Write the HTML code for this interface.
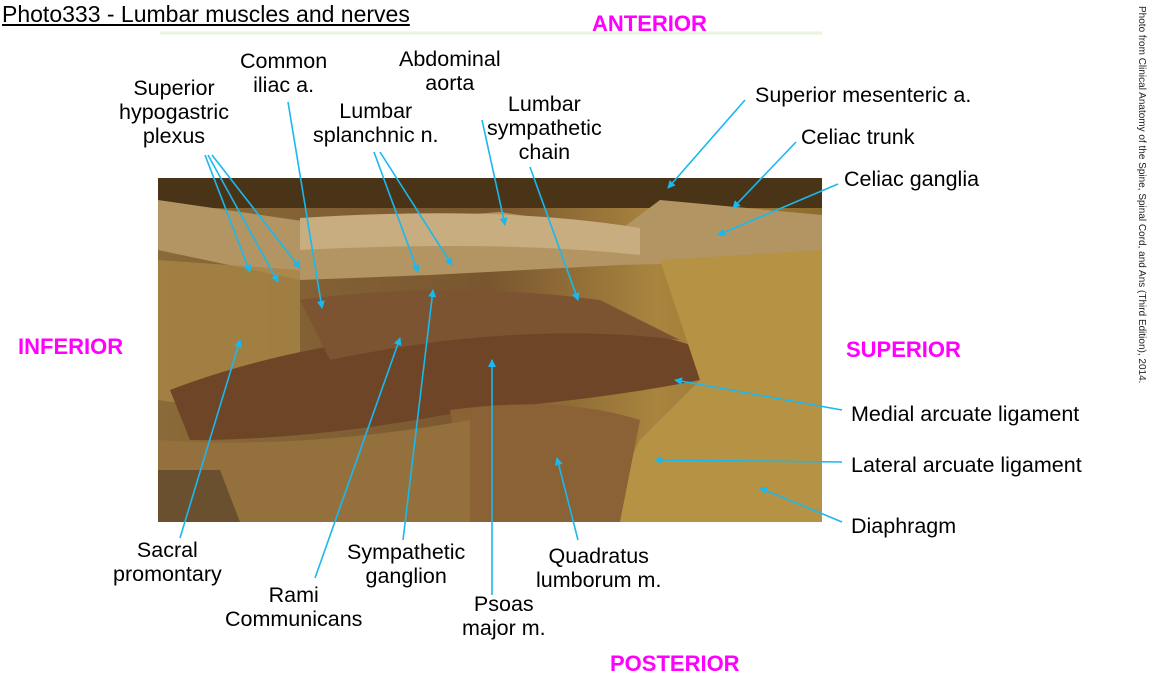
<!DOCTYPE html>
<html><head><meta charset="utf-8"><style>
body{margin:0;width:1153px;height:685px;background:#fff;overflow:hidden;position:relative;font-family:"Liberation Sans",sans-serif}
.l{position:absolute;font-size:21.5px;color:#000;line-height:24px;text-align:center;white-space:nowrap}
.m{position:absolute;font-size:22px;font-weight:bold;color:#f0f;white-space:nowrap}
</style></head><body>
<svg width="1153" height="685" style="position:absolute;left:0;top:0">
<defs>
<linearGradient id="bg" x1="0" y1="0" x2="1" y2="0">
<stop offset="0" stop-color="#8a6a38"/><stop offset="0.5" stop-color="#7a5630"/><stop offset="0.75" stop-color="#a8853e"/><stop offset="1" stop-color="#8e6b2c"/></linearGradient>
<marker id="a" markerWidth="8" markerHeight="8" refX="7" refY="4" orient="auto" markerUnits="userSpaceOnUse"><path d="M0,0 L8,4 L0,8 z" fill="#19b8ee"/></marker>
</defs>
<line x1="160" y1="33" x2="822" y2="33" stroke="#e8f3e0" stroke-width="3"/>
<rect x="158" y="178" width="664" height="344" fill="url(#bg)"/>
<rect x="158" y="178" width="664" height="30" fill="#4a3418"/>
<path d="M158,200 L330,225 L500,212 L620,230 L660,200 L822,215 L822,260 L620,265 L430,275 L300,280 L158,250 z" fill="#b39563"/>
<path d="M300,218 Q500,205 640,228 L640,255 Q500,240 300,250 z" fill="#c7ad7f"/>
<path d="M158,260 L300,270 L300,380 L230,410 L158,400 z" fill="#a88545" opacity=".8"/>
<path d="M170,390 Q300,340 470,330 Q620,320 690,345 L700,380 Q600,400 470,410 Q320,440 190,440 z" fill="#6e4526"/>
<path d="M300,300 Q450,280 600,300 L680,340 Q520,320 330,360 z" fill="#7d5431"/>
<path d="M660,260 L822,250 L822,522 L600,522 L640,440 L700,380 z" fill="#b69344"/>
<path d="M450,410 Q560,395 640,420 L620,522 L470,522 z" fill="#8a6236"/>
<path d="M158,440 Q300,450 470,420 L470,522 L158,522 z" fill="#94703c"/>
<path d="M158,470 L220,470 L240,522 L158,522 z" fill="#6b5030"/>
<g stroke="#19b8ee" stroke-width="1.6" fill="none" marker-end="url(#a)">
<line x1="205" y1="155" x2="250" y2="272"/><line x1="208" y1="155" x2="278" y2="282"/><line x1="212" y1="155" x2="300" y2="268"/>
<line x1="288" y1="102" x2="322" y2="308"/>
<line x1="374" y1="152" x2="418" y2="272"/><line x1="380" y1="152" x2="452" y2="265"/>
<line x1="482" y1="120" x2="505" y2="225"/>
<line x1="530" y1="167" x2="578" y2="300"/>
<line x1="745" y1="100" x2="668" y2="188"/>
<line x1="796" y1="142" x2="733" y2="208"/>
<line x1="838" y1="184" x2="718" y2="235"/>
<line x1="842" y1="410" x2="675" y2="380"/>
<line x1="842" y1="462" x2="655" y2="460"/>
<line x1="842" y1="522" x2="760" y2="488"/>
<line x1="180" y1="538" x2="240" y2="340"/>
<line x1="315" y1="578" x2="400" y2="338"/>
<line x1="403" y1="540" x2="433" y2="290"/>
<line x1="492" y1="595" x2="492" y2="360"/>
<line x1="578" y1="540" x2="557" y2="458"/>
</g>
</svg>
<div style="position:absolute;left:2px;top:1px;font-size:23px;text-decoration:underline">Photo333 - Lumbar muscles and nerves</div>
<div class="m" style="left:592px;top:11px">ANTERIOR</div>
<div class="m" style="left:18px;top:334px">INFERIOR</div>
<div class="m" style="left:846px;top:337px">SUPERIOR</div>
<div class="m" style="left:610px;top:651px">POSTERIOR</div>
<div class="l" style="left:119px;top:76px">Superior<br>hypogastric<br>plexus</div>
<div class="l" style="left:240px;top:49px">Common<br>iliac a.</div>
<div class="l" style="left:399px;top:47px">Abdominal<br>aorta</div>
<div class="l" style="left:313px;top:99px">Lumbar<br>splanchnic n.</div>
<div class="l" style="left:487px;top:92px">Lumbar<br>sympathetic<br>chain</div>
<div class="l" style="left:755px;top:83px">Superior mesenteric a.</div>
<div class="l" style="left:801px;top:125px">Celiac trunk</div>
<div class="l" style="left:844px;top:167px">Celiac ganglia</div>
<div class="l" style="left:851px;top:402px">Medial arcuate ligament</div>
<div class="l" style="left:851px;top:453px">Lateral arcuate ligament</div>
<div class="l" style="left:851px;top:514px">Diaphragm</div>
<div class="l" style="left:113px;top:538px">Sacral<br>promontary</div>
<div class="l" style="left:347px;top:540px">Sympathetic<br>ganglion</div>
<div class="l" style="left:536px;top:544px">Quadratus<br>lumborum m.</div>
<div class="l" style="left:225px;top:583px">Rami<br>Communicans</div>
<div class="l" style="left:462px;top:592px">Psoas<br>major m.</div>
<div style="position:absolute;left:1136px;top:6px;font-size:10px;color:#222;writing-mode:vertical-rl;white-space:nowrap">Photo from Clinical Anatomy of the Spine, Spinal Cord, and Ans (Third Edition), 2014.</div>
</body></html>
